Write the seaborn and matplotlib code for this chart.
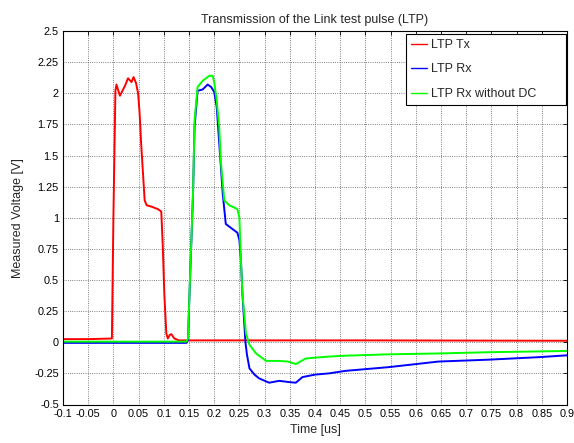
import matplotlib
matplotlib.use("Agg")
import matplotlib.pyplot as plt
import seaborn as sns
import pandas as pd
from matplotlib.lines import Line2D

# ---- data ----
tx_t = [-0.1, -0.05, -0.003, 0.0, 0.004, 0.006, 0.013, 0.023, 0.029, 0.036, 0.04, 0.045,
        0.049, 0.052, 0.055, 0.062, 0.066, 0.075, 0.088, 0.095, 0.098, 0.101, 0.105,
        0.108, 0.112, 0.115, 0.121, 0.13, 0.5, 0.9]
tx_v = [0.025, 0.025, 0.03, 1.0, 2.02, 2.07, 1.98, 2.06, 2.12, 2.09, 2.13, 2.08,
        2.0, 1.84, 1.6, 1.14, 1.10, 1.09, 1.07, 1.05, 0.77, 0.39, 0.07,
        0.03, 0.06, 0.065, 0.03, 0.015, 0.015, 0.012]

rx_t = [-0.1, 0.145, 0.148, 0.151, 0.158, 0.161, 0.167, 0.177, 0.187, 0.194, 0.2, 0.205,
        0.21, 0.217, 0.223, 0.236, 0.246, 0.25, 0.253, 0.256, 0.262, 0.265, 0.27, 0.28,
        0.289, 0.309, 0.329, 0.349, 0.362, 0.375, 0.40, 0.428, 0.46, 0.546, 0.645,
        0.744, 0.843, 0.9]
rx_v = [-0.005, -0.005, 0.02, 0.39, 1.19, 1.73, 2.02, 2.03, 2.07, 2.05, 2.01, 1.89,
        1.6, 1.19, 0.95, 0.91, 0.88, 0.82, 0.66, 0.39, 0.0, -0.1, -0.21, -0.26,
        -0.29, -0.325, -0.31, -0.32, -0.325, -0.28, -0.26, -0.25, -0.23, -0.20, -0.155,
        -0.14, -0.12, -0.105]

rxdc_t = [-0.1, 0.145, 0.148, 0.151, 0.158, 0.161, 0.167, 0.177, 0.19, 0.197, 0.2, 0.205,
          0.21, 0.213, 0.22, 0.23, 0.246, 0.25, 0.253, 0.256, 0.263, 0.27, 0.283, 0.303,
          0.329, 0.346, 0.362, 0.382, 0.428, 0.46, 0.546, 0.645, 0.744, 0.9]
rxdc_v = [0.005, 0.005, 0.03, 0.4, 1.2, 1.78, 2.05, 2.10, 2.14, 2.14, 2.09, 1.94,
          1.73, 1.46, 1.14, 1.10, 1.07, 1.0, 0.66, 0.39, 0.07, -0.02, -0.09, -0.15,
          -0.15, -0.155, -0.175, -0.13, -0.115, -0.108, -0.097, -0.09, -0.08, -0.07]

series_names = ["LTP Tx", "LTP Rx", "LTP Rx without DC"]
series_colors = ["#ff0000", "#0000ff", "#00ff00"]

x_ticks = [-0.1, -0.05, 0, 0.05, 0.1, 0.15, 0.2, 0.25, 0.3, 0.35, 0.4, 0.45, 0.5,
           0.55, 0.6, 0.65, 0.7, 0.75, 0.8, 0.85, 0.9]
x_labels = ["-0.1", "-0.05", "0", "0.05", "0.1", "0.15", "0.2", "0.25", "0.3", "0.35",
            "0.4", "0.45", "0.5", "0.55", "0.6", "0.65", "0.7", "0.75", "0.8", "0.85", "0.9"]
y_ticks = [-0.5, -0.25, 0, 0.25, 0.5, 0.75, 1, 1.25, 1.5, 1.75, 2, 2.25, 2.5]
y_labels = ["-0.5", "-0.25", "0", "0.25", "0.5", "0.75", "1", "1.25", "1.5", "1.75",
            "2", "2.25", "2.5"]

frames = []
for name, t, v in zip(series_names, [tx_t, rx_t, rxdc_t], [tx_v, rx_v, rxdc_v]):
    frames.append(pd.DataFrame({"t": t, "v": v, "series": name}))
df = pd.concat(frames, ignore_index=True)

sns.set_theme(style="white")
plt.rcParams["font.family"] = ["Liberation Sans", "DejaVu Sans"]

fig = plt.figure(figsize=(5.74, 4.43), dpi=100)
ax = fig.add_axes([63 / 574, 38.5 / 443, (567 - 63) / 574, (404.5 - 31) / 443])

sns.lineplot(data=df, x="t", y="v", hue="series", hue_order=series_names,
             palette=series_colors, sort=False, estimator=None, units="series",
             linewidth=1.4, ax=ax, legend=False)

ax.set_xlim(-0.1, 0.9)
ax.set_ylim(-0.5, 2.5)
ax.set_xticks(x_ticks)
ax.set_xticklabels(x_labels)
ax.set_yticks(y_ticks)
ax.set_yticklabels(y_labels)
ax.tick_params(direction="in", length=3, width=0.6, top=True, right=True,
               labelsize=7.8, pad=3, colors="black")
ax.grid(True, linestyle=":", color="#555555", linewidth=0.6)
for s in ax.spines.values():
    s.set_color("black")
    s.set_linewidth(0.8)

ax.set_title("Transmission of the Link test pulse (LTP)", fontsize=9, pad=6)
ax.set_xlabel("Time [us]", fontsize=9, labelpad=4)
ax.set_ylabel("Measured Voltage [V]", fontsize=9, labelpad=7)

handles = [Line2D([0], [0], color=c, lw=1) for c in series_colors]
ax_h = 404.5 - 31
leg = ax.legend(handles, series_names, loc="upper left",
                bbox_to_anchor=((406 - 63) / 504, 1 - 3 / ax_h, (566 - 406) / 504, 0.0),
                mode="expand", fontsize=9,
                frameon=True, fancybox=False, edgecolor="black", framealpha=1,
                handlelength=1.3, handletextpad=0.3, labelspacing=1.0,
                borderaxespad=0.0, borderpad=0.4)
leg.get_frame().set_linewidth(0.8)

fig.savefig("out.png", dpi=100)
